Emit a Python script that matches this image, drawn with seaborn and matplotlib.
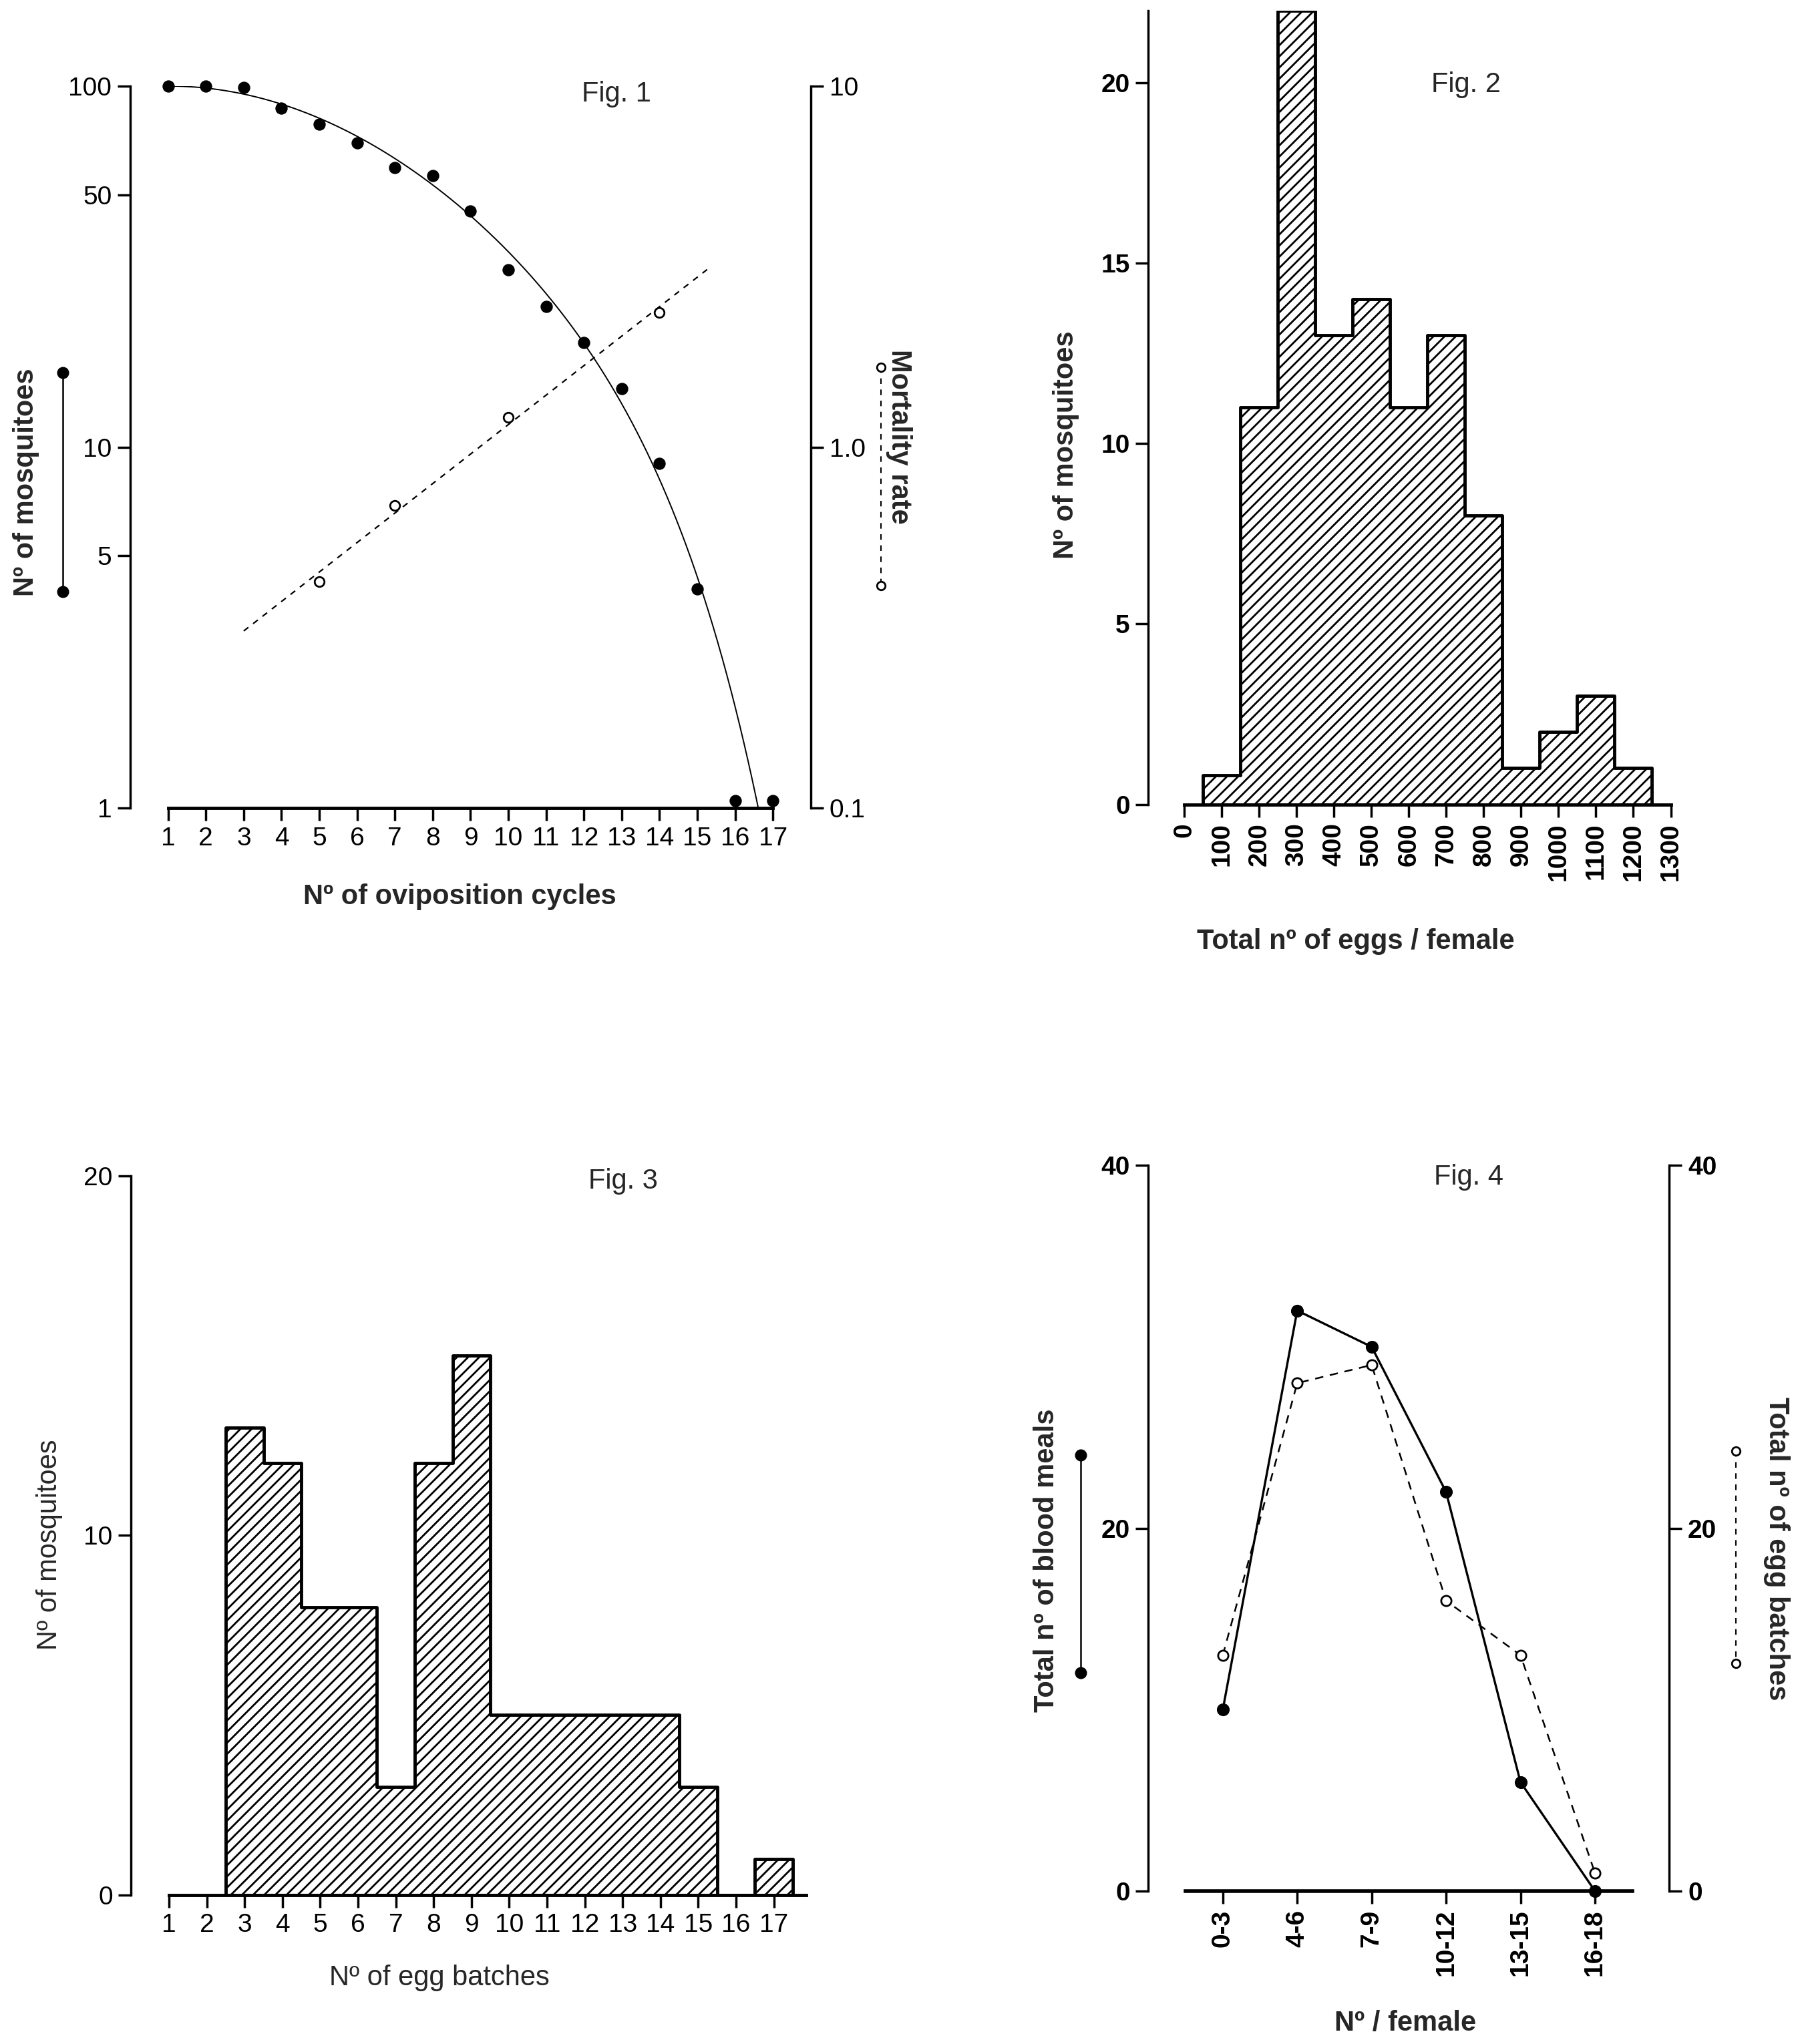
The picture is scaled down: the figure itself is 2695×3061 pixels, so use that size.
import numpy as np
import matplotlib
matplotlib.use("Agg")
import matplotlib.pyplot as plt
from matplotlib.lines import Line2D
from matplotlib.ticker import NullLocator
import seaborn as sns

# Fig. 1 - survivors per oviposition cycle (log scale) and mortality rate
cycles = np.arange(1, 18)
survivors = [100, 100, 99, 87, 78.5, 69.5, 59.5, 56.5, 45, 31, 24.5, 19.5, 14.5, 9, 4.05, 1.05, 1.05]
mort_cycles = [5, 7, 10, 14]
mort_rate = [0.425, 0.69, 1.21, 2.36]

# Fig. 2 - total eggs per female, classes of 100 centred on the hundreds
egg_classes = np.arange(100, 1300, 100)
egg_counts = [0.8, 11, 22, 13, 14, 11, 13, 8, 1, 2, 3, 1]

# Fig. 3 - number of egg batches
batches = np.arange(1, 18)
batch_counts = [0, 0, 13, 12, 8, 8, 3, 12, 15, 5, 5, 5, 5, 5, 3, 0, 1]

# Fig. 4 - blood meals and egg batches per female
groups = ["0-3", "4-6", "7-9", "10-12", "13-15", "16-18"]
blood_meals = [10, 32, 30, 22, 6, 0]
egg_batches = [13, 28, 29, 16, 13, 1]

sns.set_style("ticks")
plt.rcParams["font.family"] = ["Liberation Sans", "DejaVu Sans"]
plt.rcParams["hatch.linewidth"] = 2.0
plt.rcParams["hatch.color"] = "black"

TICK = 28
LAB = 30

fig = plt.figure(figsize=(26.95, 30.61), dpi=100)


def style(ax, lw=2.5, bold=False):
    ax.tick_params(axis="both", which="major", direction="out", length=14, width=2.5,
                   labelsize=TICK, color="black", labelcolor="black", pad=6)
    for s in ax.spines.values():
        s.set_linewidth(lw)
        s.set_color("black")
    if bold:
        for t in ax.get_xticklabels() + ax.get_yticklabels():
            t.set_fontweight("bold")


def key(x, y0, y1, dashed=False):
    # little line-with-dots symbol drawn next to an axis label
    if dashed:
        fig.add_artist(Line2D([x, x], [y0, y1], transform=fig.transFigure, color="black",
                              lw=1.5, linestyle=(0, (4, 4))))
        fig.add_artist(Line2D([x, x], [y0, y1], transform=fig.transFigure, lw=0, marker="o",
                              markersize=9, markerfacecolor="white", markeredgecolor="black",
                              markeredgewidth=2))
    else:
        fig.add_artist(Line2D([x, x], [y0, y1], transform=fig.transFigure, color="black",
                              lw=1.8, marker="o", markersize=12))


# ---------------- Fig. 1 ----------------
ax1 = fig.add_axes([0.0724, 0.6046, 0.378, 0.3533])
ax1.set_yscale("log")
# smooth survival curve: log10(y) = 2 - a*t^2 - b*t^8, least squares on cycles 1-15
t = cycles[:15] - 1.0
drop = 2 - np.log10(survivors[:15])
basis = np.column_stack([t ** 2, t ** 8])
(a, b), *_ = np.linalg.lstsq(basis, drop, rcond=None)
xs = np.linspace(1, 17, 1600)
ys = 2 - a * (xs - 1) ** 2 - b * (xs - 1) ** 8
keep = ys >= 0
sns.lineplot(x=xs[keep], y=10 ** ys[keep], ax=ax1, color="black", lw=1.4, sort=False)
sns.scatterplot(x=cycles, y=survivors, ax=ax1, color="black", s=150, edgecolor="black",
                zorder=4, clip_on=False)
ax1.set_xlim(0, 18)
ax1.set_ylim(1, 100)
ax1.set_xticks(cycles)
ax1.set_yticks([1, 5, 10, 50, 100], labels=["1", "5", "10", "50", "100"])
ax1.yaxis.set_minor_locator(NullLocator())
ax1.spines["top"].set_visible(False)
ax1.spines["right"].set_visible(False)
style(ax1)
ax1.spines["bottom"].set_bounds(1, 17)
ax1.spines["bottom"].set_linewidth(3.5)
ax1.set_xlabel("")
ax1.set_ylabel("")

ax1r = ax1.twinx()
ax1r.set_yscale("log")
mcoef = np.polyfit(mort_cycles, np.log10(mort_rate), 1)
mx = np.array([3, 15.3])
sns.lineplot(x=mx, y=10 ** np.polyval(mcoef, mx), ax=ax1r, color="black", lw=1.6,
             linestyle=(0, (4, 4)))
sns.scatterplot(x=mort_cycles, y=mort_rate, ax=ax1r, color="white", edgecolor="black",
                s=110, linewidth=2, zorder=4)
ax1r.set_ylim(0.1, 10)
ax1r.set_yticks([0.1, 1, 10], labels=["0.1", "1.0", "10"])
ax1r.yaxis.set_minor_locator(NullLocator())
for s in ["top", "left", "bottom"]:
    ax1r.spines[s].set_visible(False)
style(ax1r)
ax1r.set_ylabel("")

fig.text(0.3425, 0.954, "Fig. 1", fontsize=LAB, ha="center", va="center")
fig.text(0.2556, 0.5612, "Nº of oviposition cycles", fontsize=LAB, fontweight="bold",
         ha="center", va="center")
fig.text(0.0145, 0.764, "Nº of mosquitoes", fontsize=LAB, fontweight="bold", rotation=90,
         ha="center", va="center")
fig.text(0.4996, 0.7864, "Mortality rate", fontsize=LAB, fontweight="bold", rotation=270,
         ha="center", va="center")
key(0.0348, 0.8176, 0.7105)
key(0.4895, 0.8202, 0.7136, dashed=True)

# ---------------- Fig. 2 ----------------
ax2 = fig.add_axes([0.638, 0.6065, 0.2954, 0.3884])
sns.histplot(x=egg_classes, weights=egg_counts, bins=np.arange(50, 1300, 100).tolist(),
             element="step", fill=True, ax=ax2, facecolor="white", edgecolor="black",
             hatch="//", linewidth=3.5, alpha=1)
ax2.set_xlim(-96, 1325)
ax2.set_ylim(0, 22)
ax2.set_xticks(np.arange(0, 1400, 100))
ax2.set_xticklabels([str(v) for v in range(0, 1400, 100)], rotation=90)
ax2.set_yticks([0, 5, 10, 15, 20])
ax2.spines["top"].set_visible(False)
ax2.spines["right"].set_visible(False)
style(ax2, bold=True)
ax2.spines["bottom"].set_bounds(0, 1300)
ax2.spines["bottom"].set_linewidth(3.5)
ax2.set_xlabel("")
ax2.set_ylabel("")
fig.text(0.8146, 0.9585, "Fig. 2", fontsize=LAB, ha="center", va="center")
fig.text(0.7531, 0.5395, "Total nº of eggs / female", fontsize=LAB, fontweight="bold",
         ha="center", va="center")
fig.text(0.5923, 0.7825, "Nº of mosquitoes", fontsize=LAB, fontweight="bold", rotation=90,
         ha="center", va="center")

# ---------------- Fig. 3 ----------------
ax3 = fig.add_axes([0.0729, 0.073, 0.378, 0.3518])
sns.histplot(x=batches, weights=batch_counts, bins=np.arange(2.5, 18, 1).tolist(),
             element="step", fill=True, ax=ax3, facecolor="white", edgecolor="black",
             hatch="//", linewidth=3.5, alpha=1)
ax3.set_xlim(0, 18)
ax3.set_ylim(0, 20)
ax3.set_xticks(batches)
ax3.set_yticks([0, 10, 20])
ax3.spines["top"].set_visible(False)
ax3.spines["right"].set_visible(False)
style(ax3)
ax3.spines["bottom"].set_bounds(1, 17.85)
ax3.spines["bottom"].set_linewidth(3.5)
ax3.set_xlabel("")
ax3.set_ylabel("")
fig.text(0.3461, 0.4222, "Fig. 3", fontsize=LAB, ha="center", va="center")
fig.text(0.244, 0.0325, "Nº of egg batches", fontsize=LAB, ha="center", va="center")
fig.text(0.0275, 0.2443, "Nº of mosquitoes", fontsize=LAB, rotation=90,
         ha="center", va="center")

# ---------------- Fig. 4 ----------------
ax4 = fig.add_axes([0.638, 0.0749, 0.2894, 0.3549])
pos = np.arange(len(groups))
sns.lineplot(x=pos, y=blood_meals, ax=ax4, color="black", lw=2.4, marker="o",
             markersize=13, markeredgecolor="black", clip_on=False, zorder=4)
ax4.set_xlim(-1, 6)
ax4.set_ylim(0, 40)
ax4.set_xticks(pos)
ax4.set_xticklabels(groups, rotation=90)
ax4.set_yticks([0, 20, 40])
ax4.spines["top"].set_visible(False)
ax4.spines["right"].set_visible(False)
style(ax4, bold=True)
ax4.spines["bottom"].set_bounds(-0.5, 5.5)
ax4.spines["bottom"].set_linewidth(4)
ax4.set_xlabel("")
ax4.set_ylabel("")

ax4r = ax4.twinx()
sns.lineplot(x=pos, y=egg_batches, ax=ax4r, color="black", lw=1.8, linestyle=(0, (5, 4)),
             marker="o", markersize=11, markerfacecolor="white", markeredgecolor="black",
             markeredgewidth=2, clip_on=False, zorder=4)
ax4r.set_ylim(0, 40)
ax4r.set_yticks([0, 20, 40])
for s in ["top", "left", "bottom"]:
    ax4r.spines[s].set_visible(False)
style(ax4r, bold=True)
ax4r.set_ylabel("")

fig.text(0.816, 0.4241, "Fig. 4", fontsize=LAB, ha="center", va="center")
fig.text(0.7806, 0.0102, "Nº / female", fontsize=LAB, fontweight="bold", ha="center",
         va="center")
fig.text(0.5815, 0.2366, "Total nº of blood meals", fontsize=LAB, fontweight="bold",
         rotation=90, ha="center", va="center")
fig.text(0.987, 0.2423, "Total nº of egg batches", fontsize=LAB, fontweight="bold",
         rotation=270, ha="center", va="center")
key(0.6003, 0.2883, 0.1818)
key(0.9645, 0.2902, 0.1862, dashed=True)

fig.savefig("out.png", dpi=100)
